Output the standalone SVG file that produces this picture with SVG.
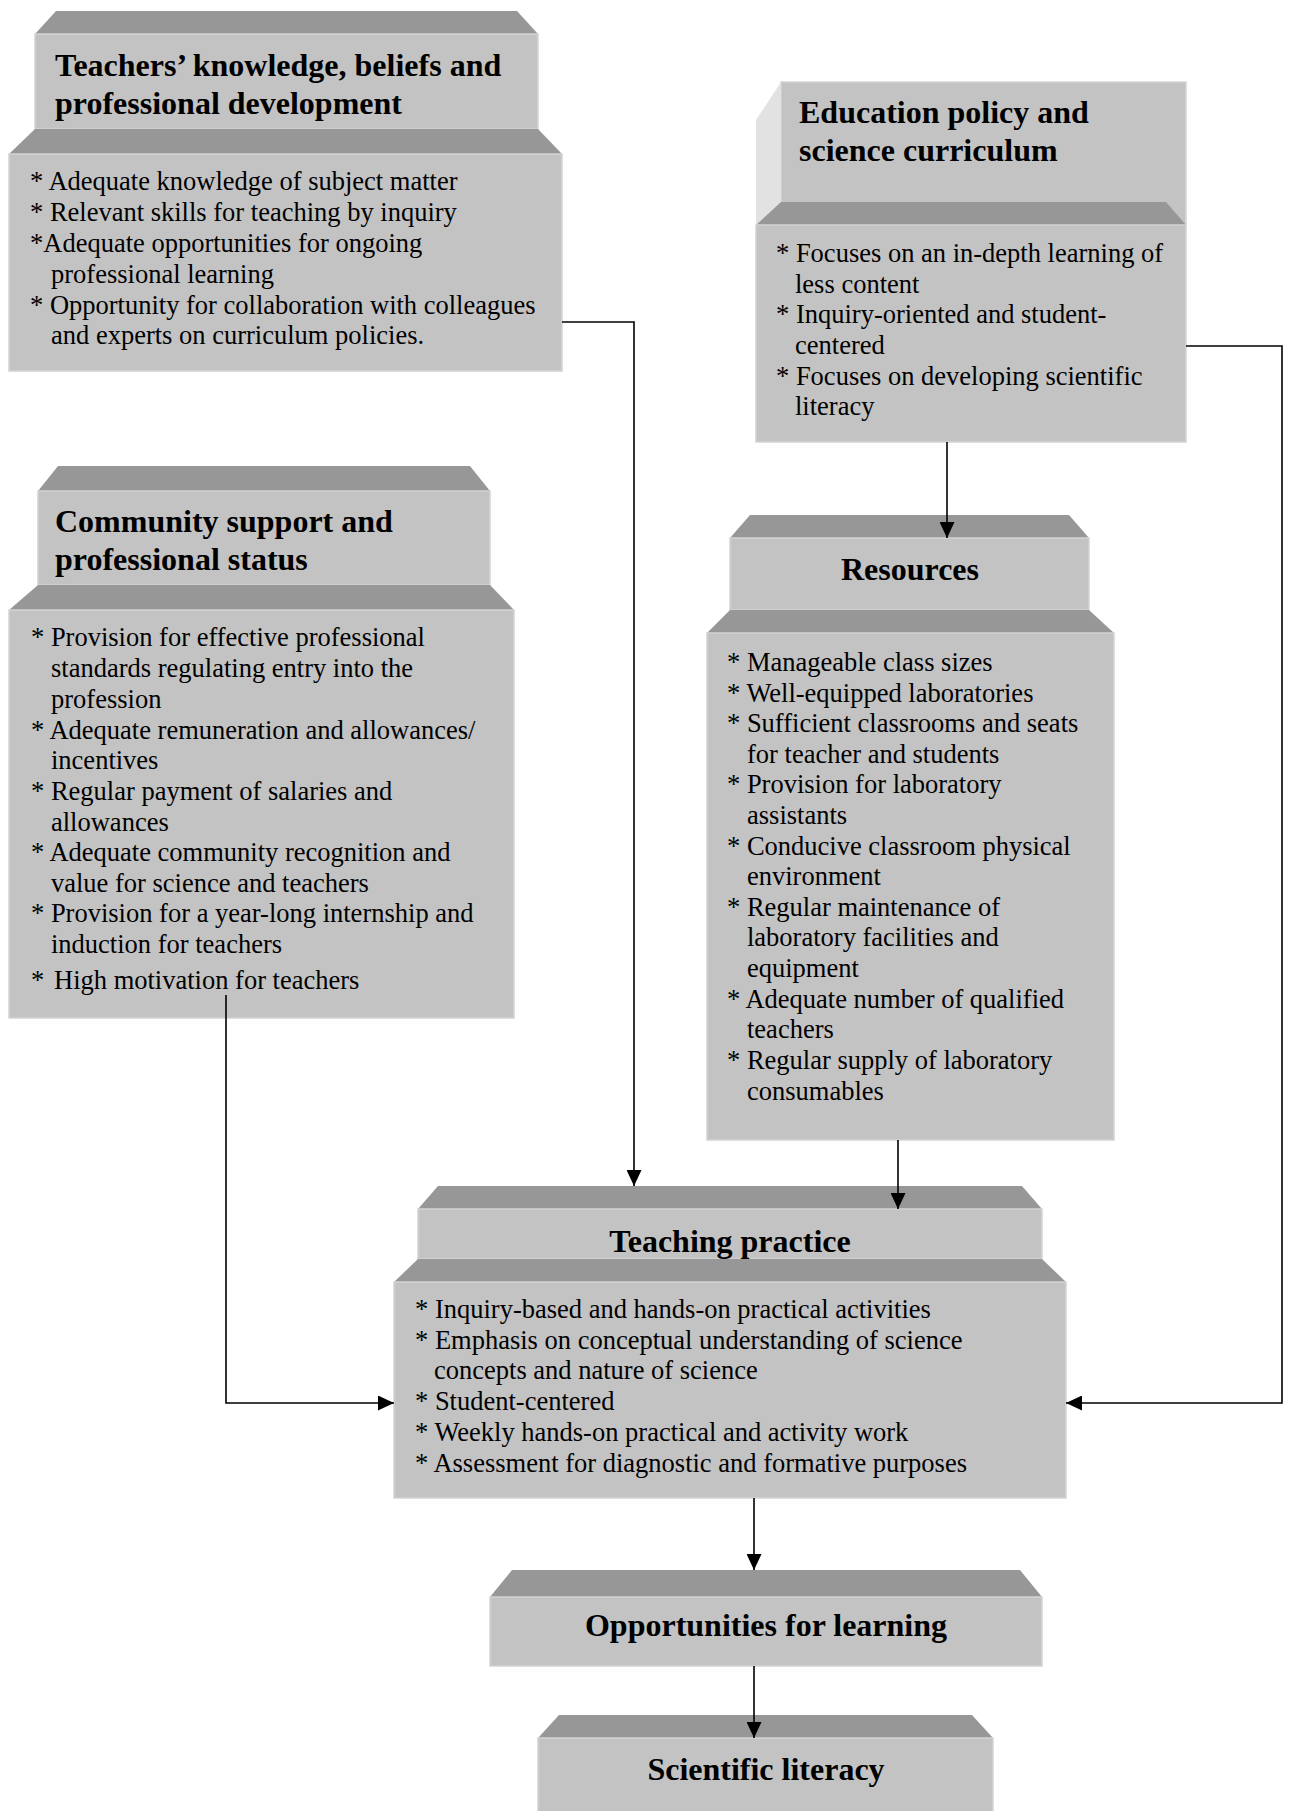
<svg xmlns="http://www.w3.org/2000/svg" width="1291" height="1811" viewBox="0 0 1291 1811">
<style>
.face{fill:#c3c3c3;stroke:#d4d4d4;stroke-width:1.5}
.bevel{fill:#979797}
.side{fill:#e2e2e2}
.h{font-family:"Liberation Serif","Times New Roman",serif;font-weight:bold;font-size:32px;fill:#000}
.b{font-family:"Liberation Serif","Times New Roman",serif;font-size:26.5px;fill:#000}
.c{text-anchor:middle}
.conn{fill:none;stroke:#000;stroke-width:1.6}
</style>
<defs>
<marker id="ah" viewBox="0 0 10 10" refX="10" refY="5" markerWidth="16" markerHeight="15" orient="auto" markerUnits="userSpaceOnUse" preserveAspectRatio="none">
<path d="M0,0 L10,5 L0,10 z" fill="#000"/>
</marker>
</defs>
<rect width="1291" height="1811" fill="#fff"/>

<g id="n-teachers">
<polygon class="bevel" points="56,11 517,11 538,34 35,34"/>
<rect class="face" x="35" y="34" width="503" height="95"/>
<polygon class="bevel" points="35,129 538,129 562,154 9,154"/>
<rect class="face" x="9" y="154" width="553" height="217"/>
<text class="h" x="55" y="76">Teachers’ knowledge, beliefs and</text>
<text class="h" x="55" y="114">professional development</text>
<text class="b" x="30" y="190">* Adequate knowledge of subject matter</text>
<text class="b" x="30" y="221">* Relevant skills for teaching by inquiry</text>
<text class="b" x="30" y="252">*Adequate opportunities for ongoing</text>
<text class="b" x="51" y="283">professional learning</text>
<text class="b" x="30" y="314">* Opportunity for collaboration with colleagues</text>
<text class="b" x="51" y="344">and experts on curriculum policies.</text>
</g>

<g id="n-education">
<rect class="face" x="781" y="82" width="405" height="143"/>
<polygon class="side" points="781,82 756,120 756,225 781,225"/>
<polygon class="bevel" points="781,202 1166,202 1186,225 756,225"/>
<rect class="face" x="756" y="225" width="430" height="217"/>
<text class="h" x="799" y="123">Education policy and</text>
<text class="h" x="799" y="161">science curriculum</text>
<text class="b" x="776" y="262">* Focuses on an in-depth learning of</text>
<text class="b" x="795" y="293">less content</text>
<text class="b" x="776" y="323">* Inquiry-oriented and student-</text>
<text class="b" x="795" y="354">centered</text>
<text class="b" x="776" y="385">* Focuses on developing scientific</text>
<text class="b" x="795" y="415">literacy</text>
</g>

<g id="n-community">
<polygon class="bevel" points="58,466 470,466 490,491 38,491"/>
<rect class="face" x="38" y="491" width="452" height="94"/>
<polygon class="bevel" points="38,585 490,585 514,610 9,610"/>
<rect class="face" x="9" y="610" width="505" height="408"/>
<text class="h" x="55" y="532">Community support and</text>
<text class="h" x="55" y="570">professional status</text>
<text class="b" x="31" y="646">* Provision for effective professional</text>
<text class="b" x="51" y="677">standards regulating entry into the</text>
<text class="b" x="51" y="708">profession</text>
<text class="b" x="31" y="739">* Adequate remuneration and allowances/</text>
<text class="b" x="51" y="769">incentives</text>
<text class="b" x="31" y="800">* Regular payment of salaries and</text>
<text class="b" x="51" y="831">allowances</text>
<text class="b" x="31" y="861">* Adequate community recognition and</text>
<text class="b" x="51" y="892">value for science and teachers</text>
<text class="b" x="31" y="922">* Provision for a year-long internship and</text>
<text class="b" x="51" y="953">induction for teachers</text>
<text class="b" x="31" y="989">*<tspan x="54">High motivation for teachers</tspan></text>
</g>

<g id="n-resources">
<polygon class="bevel" points="750,515 1069,515 1089,538 730,538"/>
<rect class="face" x="730" y="538" width="359" height="72"/>
<polygon class="bevel" points="730,610 1089,610 1114,633 707,633"/>
<rect class="face" x="707" y="633" width="407" height="507"/>
<text class="h c" x="910" y="580">Resources</text>
<text class="b" x="727" y="671">* Manageable class sizes</text>
<text class="b" x="727" y="702">* Well-equipped laboratories</text>
<text class="b" x="727" y="732">* Sufficient classrooms and seats</text>
<text class="b" x="747" y="763">for teacher and students</text>
<text class="b" x="727" y="793">* Provision for laboratory</text>
<text class="b" x="747" y="824">assistants</text>
<text class="b" x="727" y="855">* Conducive classroom physical</text>
<text class="b" x="747" y="885">environment</text>
<text class="b" x="727" y="916">* Regular maintenance of</text>
<text class="b" x="747" y="946">laboratory facilities and</text>
<text class="b" x="747" y="977">equipment</text>
<text class="b" x="727" y="1008">* Adequate number of qualified</text>
<text class="b" x="747" y="1038">teachers</text>
<text class="b" x="727" y="1069">* Regular supply of laboratory</text>
<text class="b" x="747" y="1100">consumables</text>
</g>

<g id="n-teaching">
<polygon class="bevel" points="438,1186 1022,1186 1042,1209 418,1209"/>
<rect class="face" x="418" y="1209" width="624" height="50"/>
<polygon class="bevel" points="418,1259 1042,1259 1066,1282 394,1282"/>
<rect class="face" x="394" y="1282" width="672" height="216"/>
<text class="h c" x="730" y="1252">Teaching practice</text>
<text class="b" x="415" y="1318">* Inquiry-based and hands-on practical activities</text>
<text class="b" x="415" y="1349">* Emphasis on conceptual understanding of science</text>
<text class="b" x="434" y="1379">concepts and nature of science</text>
<text class="b" x="415" y="1410">* Student-centered</text>
<text class="b" x="415" y="1441">* Weekly hands-on practical and activity work</text>
<text class="b" x="415" y="1472">* Assessment for diagnostic and formative purposes</text>
</g>

<g id="n-opportunities">
<polygon class="bevel" points="512,1570 1020,1570 1042,1597 490,1597"/>
<rect class="face" x="490" y="1597" width="552" height="69"/>
<text class="h c" x="766" y="1636">Opportunities for learning</text>
</g>

<g id="n-literacy">
<polygon class="bevel" points="559,1715 972,1715 993,1738 538,1738"/>
<rect class="face" x="538" y="1738" width="455" height="80"/>
<text class="h c" x="766" y="1780">Scientific literacy</text>
</g>

<g id="connectors">
<path class="conn" d="M562,322 H634 V1186" marker-end="url(#ah)"/>
<path class="conn" d="M1186,346 H1282 V1403 H1066" marker-end="url(#ah)"/>
<path class="conn" d="M947,442 V538" marker-end="url(#ah)"/>
<path class="conn" d="M898,1140 V1209" marker-end="url(#ah)"/>
<path class="conn" d="M226,995 V1403 H394" marker-end="url(#ah)"/>
<path class="conn" d="M754,1498 V1570" marker-end="url(#ah)"/>
<path class="conn" d="M754,1666 V1738" marker-end="url(#ah)"/>
</g>
</svg>
